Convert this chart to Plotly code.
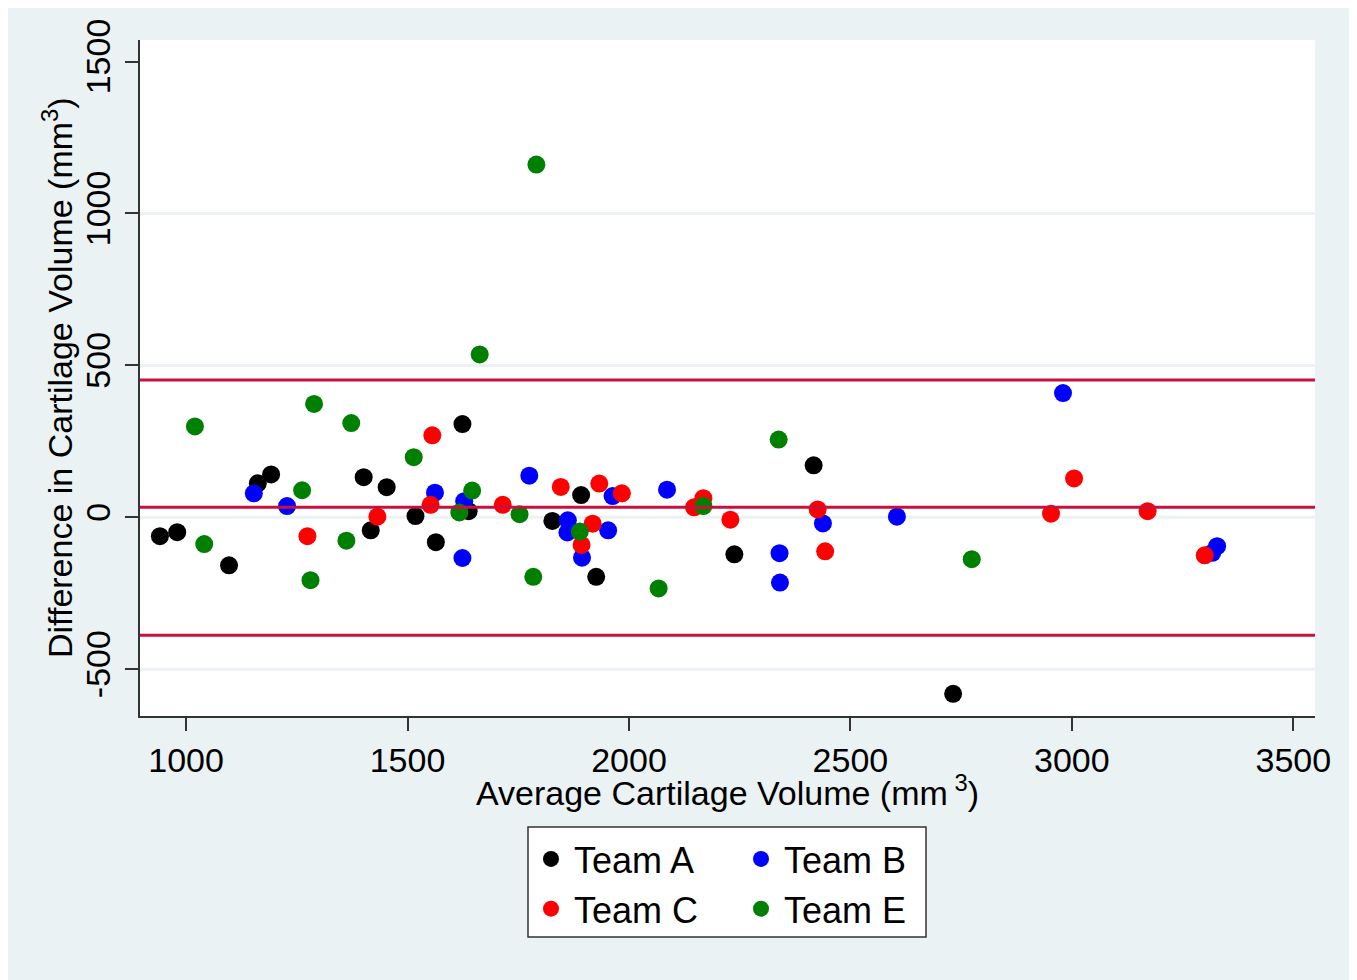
import plotly.graph_objects as go

# ---- data ----
team_a_x = [941, 980, 1097, 1162, 1192, 1401, 1453, 1417, 1518, 1564, 1624, 1638, 1827, 1892, 1926, 2238, 2417, 2732]
team_a_y = [-62, -49, -158, 112, 141, 132, 99, -43, 4, -82, 307, 20, -12, 73, -196, -122, 171, -581]

team_b_x = [1153, 1228, 1562, 1628, 1624, 1775, 1862, 1861, 1894, 1963, 1953, 2086, 2340, 2341, 2438, 2605, 2980, 3328, 3317]
team_b_y = [79, 37, 81, 53, -134, 137, -10, -50, -133, 70, -43, 91, -118, -215, -20, 2, 409, -95, -117]

team_c_x = [1274, 1432, 1556, 1552, 1715, 1846, 1933, 1984, 1918, 1893, 2147, 2168, 2229, 2426, 2443, 2953, 3005, 3171, 3300]
team_c_y = [-62, 2, 270, 41, 41, 100, 111, 79, -21, -91, 33, 63, -8, 26, -112, 12, 128, 20, -125]

team_e_x = [1020, 1041, 1262, 1289, 1281, 1373, 1362, 1514, 1663, 1646, 1617, 1753, 1784, 1791, 1889, 2067, 2168, 2338, 2774]
team_e_y = [299, -88, 89, 373, -207, 310, -77, 198, 536, 88, 16, 10, -196, 1161, -47, -234, 37, 256, -138]

limit_lines = [452, 33, -388]          # upper LoA, mean difference, lower LoA
x_ticks = [1000, 1500, 2000, 2500, 3000, 3500]
y_ticks = [-500, 0, 500, 1000, 1500]
y_grid = [-500, 0, 500, 1000]

series = [
    ("Team A", team_a_x, team_a_y, "#000000", "legend"),
    ("Team B", team_b_x, team_b_y, "#0000ff", "legend2"),
    ("Team C", team_c_x, team_c_y, "#ff0000", "legend"),
    ("Team E", team_e_x, team_e_y, "#008000", "legend2"),
]

FONT = "Liberation Sans, Arial, Helvetica, sans-serif"
BG = "#eaf2f3"

fig = go.Figure()
for name, xs, ys, col, lg in series:
    fig.add_trace(go.Scatter(
        x=xs, y=ys, mode="markers", name=name, legend=lg,
        marker=dict(color=col, size=18, line=dict(width=0)),
    ))

shapes = []
for g in y_grid:
    shapes.append(dict(type="line", xref="paper", x0=0, x1=1, yref="y", y0=g, y1=g,
                       line=dict(color=BG, width=3), layer="below"))
for v in limit_lines:
    shapes.append(dict(type="line", xref="paper", x0=0, x1=1, yref="y", y0=v, y1=v,
                       line=dict(color="#c8103e", width=3), layer="above"))

W, H = 1357, 980
OFF = 8  # page body margin
L, T = 140 - OFF, 40 - OFF
R = W - (1315 - OFF)
B = H - (716 - OFF)
pw, ph = W - L - R, H - T - B
def px(xs):  # screen x -> paper
    return (xs - OFF - L) / pw
def py(ys):  # screen y -> paper
    return (H - B - (ys - OFF)) / ph

shapes.append(dict(type="rect", xref="paper", yref="paper", x0=px(528), x1=px(926), y0=py(937), y1=py(827),
                   fillcolor="white", line=dict(color="#333333", width=1.5), layer="below"))

fig.update_layout(
    width=W, height=H,
    margin=dict(l=L, r=R, t=T, b=B),
    paper_bgcolor=BG, plot_bgcolor="white",
    font=dict(family=FONT, size=34, color="black"),
    shapes=shapes,
    showlegend=True,
    legend=dict(x=px(528), y=py(829), xanchor="left", yanchor="top",
                bgcolor="rgba(0,0,0,0)", borderwidth=0, font=dict(size=36),
                orientation="v", itemwidth=36),
    legend2=dict(x=px(738), y=py(829), xanchor="left", yanchor="top",
                 bgcolor="rgba(0,0,0,0)", borderwidth=0, font=dict(size=36),
                 orientation="v", itemwidth=36),
    annotations=[
        dict(text="Average Cartilage Volume (mm<sup> 3</sup>)", xref="paper", yref="paper",
             x=0.5, y=py(790), xanchor="center", yanchor="middle", showarrow=False,
             font=dict(size=34, family=FONT, color="black")),
        dict(text="Difference in Cartilage Volume (mm<sup>3</sup>)", xref="paper", yref="paper",
             x=px(57), y=0.5, xanchor="center", yanchor="middle", showarrow=False,
             textangle=-90, font=dict(size=34, family=FONT, color="black")),
    ],
)

fig.update_xaxes(
    range=[896, 3549], tickmode="array", tickvals=x_ticks, ticktext=[str(t) for t in x_ticks],
    showgrid=False, zeroline=False, showline=True, linecolor="#333333", linewidth=1.5,
    ticks="outside", ticklen=13, tickwidth=1.5, tickcolor="#333333",
    ticklabelstandoff=0,
)
fig.update_yaxes(
    range=[-654, 1571], tickmode="array", tickvals=y_ticks, ticktext=[str(t) for t in y_ticks],
    showgrid=False, zeroline=False, showline=True, linecolor="#333333", linewidth=1.5,
    ticks="outside", ticklen=13, tickwidth=1.5, tickcolor="#333333",
    tickangle=-90, ticklabelstandoff=2,
)

fig.write_html("out.html")
